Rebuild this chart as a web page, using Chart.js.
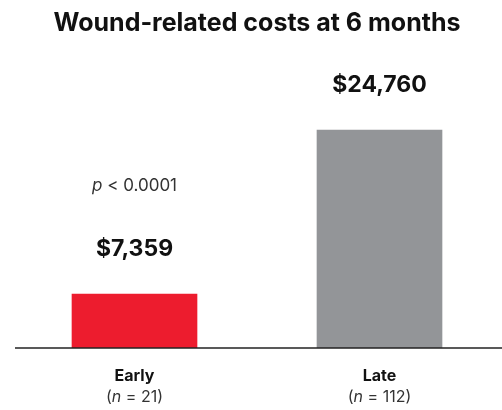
<!DOCTYPE html>
<html>
<head>
<meta charset="utf-8">
<script src="https://cdn.jsdelivr.net/npm/chart.js@4"></script>
<style>
  html, body { margin: 0; padding: 0; background: #fff; }
  #wrap { width: 502px; height: 410px; }
</style>
</head>
<body>
<div id="wrap"><canvas id="costChart" width="502" height="410"></canvas></div>
<script>
    const groups = ['Early', 'Late'];
    const groupN = ['21', '112'];
    const costs = [7359, 24760];
    const barColors = ['#ED1C2E', '#939598'];
    const pValueText = '< 0.0001';

    const FONT = 'Inter, "DejaVu Sans", sans-serif';

    // value labels, p value and the two-line category labels
    const labelPlugin = {
        id: 'labelPlugin',
        afterDraw(chart) {
            const ctx = chart.ctx;
            const xScale = chart.scales.x;
            const area = chart.chartArea;
            const meta = chart.getDatasetMeta(0);

            // baseline
            ctx.save();
            ctx.strokeStyle = '#222';
            ctx.lineWidth = 1.5;
            ctx.beginPath();
            ctx.moveTo(15, area.bottom);
            ctx.lineTo(chart.width, area.bottom);
            ctx.stroke();

            ctx.textAlign = 'center';
            ctx.textBaseline = 'middle';
            meta.data.forEach((bar, i) => {
                const x = xScale.getPixelForValue(i);
                ctx.fillStyle = '#111';
                ctx.font = `bold 23px ${FONT}`;
                ctx.fillText('$' + costs[i].toLocaleString('en-US'), x, bar.y - 45);

                ctx.font = `bold 16px ${FONT}`;
                ctx.fillText(groups[i], x, area.bottom + 28);

                // (n = xx) with italic n
                ctx.fillStyle = '#333';
                const parts = [['(', 'normal'], ['n', 'italic'], [' = ' + groupN[i] + ')', 'normal']];
                const widths = parts.map(p => { ctx.font = `${p[1]} 16px ${FONT}`; return ctx.measureText(p[0]).width; });
                let sx = x - widths.reduce((a, b) => a + b, 0) / 2;
                ctx.textAlign = 'left';
                parts.forEach((p, k) => {
                    ctx.font = `${p[1]} 16px ${FONT}`;
                    ctx.fillText(p[0], sx, area.bottom + 49);
                    sx += widths[k];
                });
                ctx.textAlign = 'center';
            });

            // p value above the Early bar
            const px = xScale.getPixelForValue(0);
            const py = meta.data[0].y - 108;
            ctx.fillStyle = '#333';
            ctx.font = `italic 17px ${FONT}`;
            const pw = ctx.measureText('p ').width;
            ctx.font = `normal 17px ${FONT}`;
            const rw = ctx.measureText(pValueText).width;
            let sx = px - (pw + rw) / 2;
            ctx.textAlign = 'left';
            ctx.font = `italic 17px ${FONT}`;
            ctx.fillText('p ', sx, py);
            ctx.font = `normal 17px ${FONT}`;
            ctx.fillText(pValueText, sx + pw, py);
            ctx.restore();
        }
    };

    new Chart(document.getElementById('costChart').getContext('2d'), {
        type: 'bar',
        data: {
            labels: groups,
            datasets: [{
                data: costs,
                backgroundColor: barColors,
                borderWidth: 0,
                barThickness: 125
            }]
        },
        options: {
            responsive: false,
            animation: false,
            layout: { padding: { top: 0, bottom: 62, left: 12, right: 0 } },
            plugins: {
                legend: { display: false },
                tooltip: { enabled: false },
                title: {
                    display: true,
                    text: 'Wound-related costs at 6 months',
                    color: '#111',
                    font: { family: FONT, size: 25, weight: 'bold', lineHeight: 1.2 },
                    padding: { top: 8, bottom: 62 }
                }
            },
            scales: {
                x: { display: false, offset: true },
                y: { display: false, min: 1630, max: 27943 }
            }
        },
        plugins: [labelPlugin]
    });
</script>
</body>
</html>
